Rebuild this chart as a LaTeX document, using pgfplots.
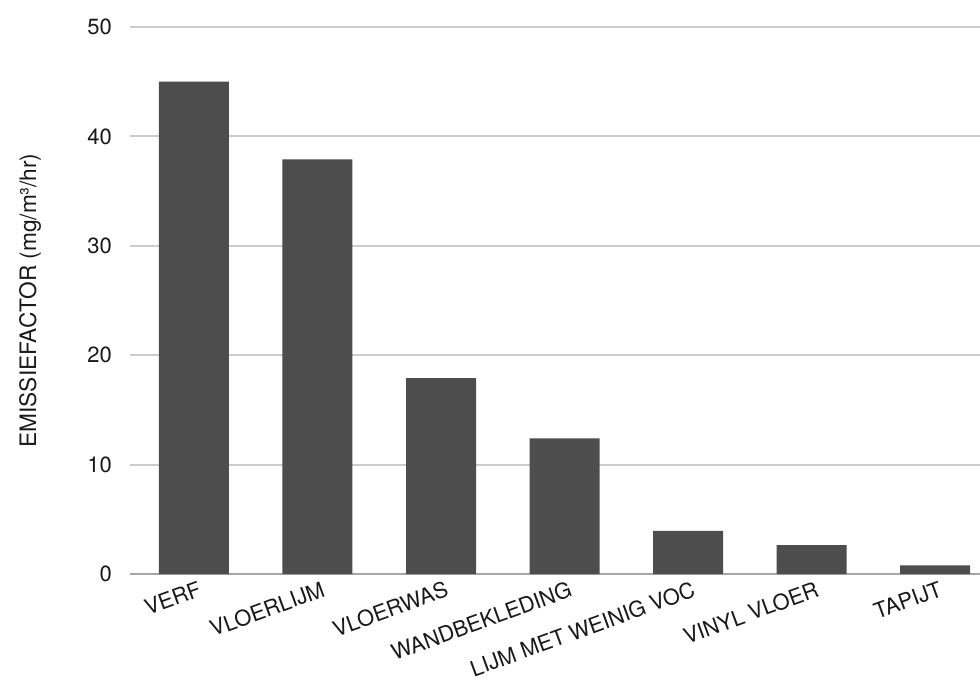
\documentclass[border=0pt]{standalone}
\usepackage{fontspec}
\setmainfont{TeX Gyre Heros}
\usepackage{pgfplots}
\pgfplotsset{compat=1.18}
\definecolor{barc}{HTML}{4D4D4D}
\definecolor{gridc}{HTML}{CCCCCC}
\definecolor{basec}{HTML}{A6A6A6}
\definecolor{textc}{HTML}{1A1A1A}
\begin{document}
\begin{tikzpicture}
\begin{axis}[
    scale only axis,
    width=637.5pt, height=410.25pt,
    ymin=0, ymax=50,
    xmin=-0.518, xmax=6.364,
    ytick={0,10,20,30,40,50},
    xtick={0,1,2,3,4,5,6},
    xticklabels={VERF,VLOERLIJM,VLOERWAS,WANDBEKLEDING,LIJM MET WEINIG VOC,VINYL VLOER,TAPIJT},
    x tick label style={rotate=20, anchor=north east, font=\fontsize{16.3}{18}\selectfont, text=textc, yshift=-2pt, xshift=4pt},
    y tick label style={font=\fontsize{16.5}{18}\selectfont, text=textc},
    /pgf/number format/assume math mode=true,
    ylabel={EMISSIEFACTOR (mg/m³/hr)},
    ylabel style={font=\fontsize{17}{19}\selectfont, text=textc},
    axis x line*=bottom,
    axis y line*=left,
    y axis line style={draw=none},
    x axis line style={basec, line width=1.5pt},
    ymajorgrids=true,
    grid style={gridc, line width=1.5pt},
    major tick length=0pt,
    tick style={draw=none},
    yticklabel style={xshift=-10pt},
    ylabel shift=28pt,
    clip=false,
]
\addplot[ybar, bar width=52.5pt, fill=barc, draw=none] coordinates {
    (0,45) (1,37.9) (2,17.9) (3,12.4) (4,3.95) (5,2.65) (6,0.8)
};
\end{axis}
\pgfresetboundingbox
\useasboundingbox (-97.5pt,-83.25pt) rectangle (637.5pt,430.5pt);
\end{tikzpicture}
\end{document}
